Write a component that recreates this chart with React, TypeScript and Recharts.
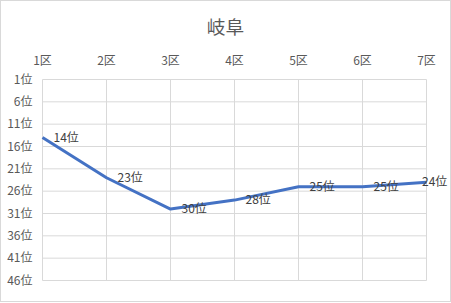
import React from 'react';
import { LineChart, Line, XAxis, YAxis, CartesianGrid, LabelList } from 'recharts';

const categories = ['1区', '2区', '3区', '4区', '5区', '6区', '7区'];
const ranks = [14, 23, 30, 28, 25, 25, 24];
const yTicks = [1, 6, 11, 16, 21, 26, 31, 36, 41, 46];
const title = '岐阜';

const data = categories.map((c, i) => ({ name: c, rank: ranks[i] }));

const FONT = '"Noto Sans CJK JP", "Noto Sans", sans-serif';
const W = 451;
const H = 302;

const RankLabel = (props: any) => {
  const { x, y, value } = props;
  const text = `${value}位`;
  const approxW = 25;
  let tx = x + 11;
  if (tx + approxW > W - 4) tx = W - 4 - approxW;
  return (
    <text x={tx} y={y} dy="0.35em" fontSize={12} fill="#404040" fontFamily={FONT} textAnchor="start">
      {text}
    </text>
  );
};

export default function App() {
  return (
    <div style={{ position: 'absolute', left: 0, top: 0, width: W, height: H, boxSizing: 'border-box', border: '1px solid #d9d9d9', background: '#fff' }}>
      <div style={{ position: 'absolute', left: -1, top: 12, width: W, textAlign: 'center', fontFamily: FONT, fontSize: 18.7, color: '#595959', lineHeight: '26px' }}>
        {title}
      </div>
      <div style={{ position: 'absolute', left: -1, top: -1 }}>
        <LineChart width={W} height={H} data={data} margin={{ top: 49.5, right: 24.5, bottom: 11.5, left: 0.5 }}>
          <CartesianGrid xAxisId="top" stroke="#d9d9d9" strokeWidth={1} />
          <XAxis
            xAxisId="top"
            dataKey="name"
            orientation="top"
            height={30}
            axisLine={false}
            tickLine={false}
            tickSize={0}
            tickMargin={15}
            interval={0}
            tick={{ fontSize: 12, fill: '#595959', fontFamily: FONT }}
          />
          <XAxis
            xAxisId="bottom"
            dataKey="name"
            orientation="bottom"
            height={10}
            axisLine={false}
            tickLine={{ stroke: '#d9d9d9' }}
            tickSize={4}
            tick={false}
            interval={0}
          />
          <YAxis
            domain={[1, 46]}
            reversed
            ticks={yTicks}
            interval={0}
            width={42}
            axisLine={false}
            tickLine={false}
            tickSize={0}
            tickMargin={10}
            tickFormatter={(v: number) => `${v}位`}
            tick={{ fontSize: 12, fill: '#595959', fontFamily: FONT }}
          />
          <Line
            xAxisId="top"
            type="linear"
            dataKey="rank"
            stroke="#4472C4"
            strokeWidth={3}
            dot={false}
            strokeLinejoin="round"
            isAnimationActive={false}
          >
            <LabelList dataKey="rank" content={<RankLabel />} />
          </Line>
        </LineChart>
      </div>
    </div>
  );
}
